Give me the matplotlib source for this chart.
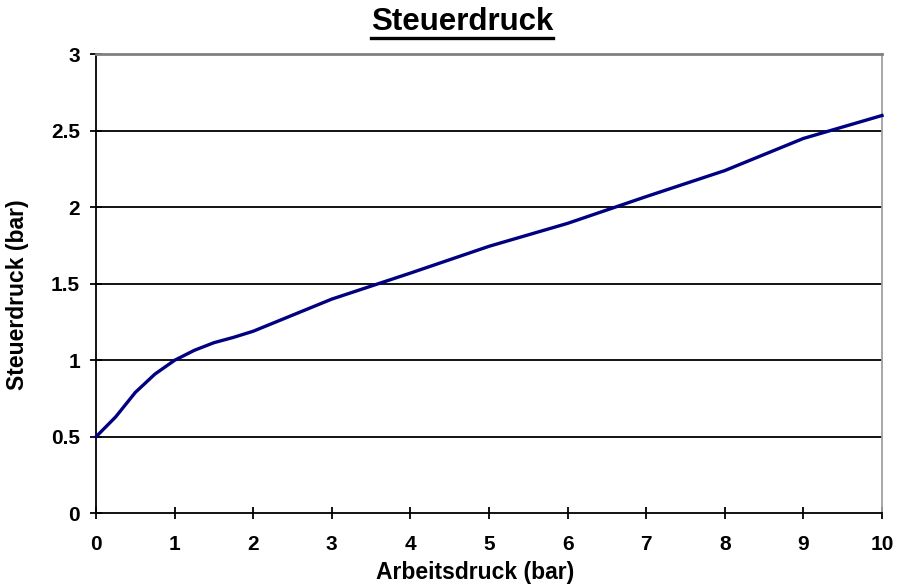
import matplotlib
matplotlib.use("Agg")
import matplotlib.pyplot as plt
from matplotlib.lines import Line2D
from matplotlib import font_manager as fm

# Arbeitsdruck vs. Steuerdruck (bar)
arbeitsdruck = [0, 0.25, 0.5, 0.75, 1, 1.25, 1.5, 1.75, 2, 3, 4, 5, 6, 7, 8, 9, 9.5, 10]
steuerdruck = [0.5, 0.63, 0.79, 0.91, 1.0, 1.065, 1.115, 1.15, 1.19, 1.40, 1.57, 1.745,
               1.895, 2.07, 2.24, 2.45, 2.525, 2.6]
x_ticks = list(range(0, 11))
y_ticks = [0, 0.5, 1, 1.5, 2, 2.5, 3]
y_ticklabels = ["0", "0.5", "1", "1.5", "2", "2.5", "3"]

names = {f.name for f in fm.fontManager.ttflist}
base = "Liberation Sans" if "Liberation Sans" in names else "DejaVu Sans"
plt.rcParams["font.family"] = [base, "DejaVu Sans"]

W, H = 898, 585
fig = plt.figure(figsize=(W / 100, H / 100), dpi=100)
ax = fig.add_axes([96 / W, (H - 513.3) / H, (882 - 96) / W, (513.3 - 54.3) / H])

for y in y_ticks[1:-1]:
    ax.axhline(y, color="black", lw=1.3, zorder=1)

ax.plot(arbeitsdruck, steuerdruck, color="#000080", lw=2.4, zorder=3,
        solid_joinstyle="round", clip_on=False)

ax.set_xlim(0, 10)
ax.set_ylim(0, 3)
ax.set_xticks(x_ticks)
ax.set_xticklabels([str(v) for v in x_ticks], fontsize=15, fontweight="bold")
ax.set_yticks(y_ticks)
ax.set_yticklabels(y_ticklabels, fontsize=15, fontweight="bold")
ax.tick_params(direction="inout", length=9, width=1.3, color="black")
ax.tick_params(axis="y", pad=7)
ax.tick_params(axis="x", pad=11)

ax.spines["left"].set_color("black")
ax.spines["bottom"].set_color("black")
ax.spines["left"].set_linewidth(1.3)
ax.spines["bottom"].set_linewidth(1.3)
ax.spines["top"].set_color("#808080")
ax.spines["right"].set_color("#a0a0a0")
ax.spines["top"].set_linewidth(2.0)
ax.spines["right"].set_linewidth(1.3)

ax.set_xlabel("Arbeitsdruck (bar)", fontsize=16.5, fontweight="bold", va="center")
ax.xaxis.set_label_coords((475 - 96) / 786, (513.3 - 572) / 459)
ax.set_ylabel("Steuerdruck (bar)", fontsize=16.5, fontweight="bold", va="center")
ax.yaxis.set_label_coords((18 - 96) / 786, (513.3 - 295) / 459)

title = fig.text(462 / W, 1 - 22 / H, "Steuerdruck", ha="center", va="center",
                 fontsize=22.5, fontweight="bold")

# underline under the title
fig.canvas.draw()
bb = title.get_window_extent(fig.canvas.get_renderer())
uy = 1 - 38 / H
fig.add_artist(Line2D([bb.x0 / W, bb.x1 / W], [uy, uy], color="black", lw=2.4,
                      transform=fig.transFigure))

fig.savefig("out.png", dpi=100)
